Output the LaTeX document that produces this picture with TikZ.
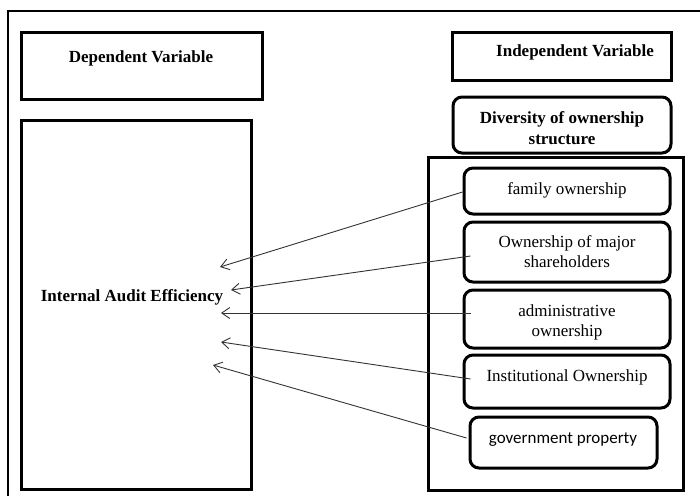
\documentclass[tikz,border=0pt]{standalone}
\usepackage{fontspec}
\setmainfont{Liberation Serif}
\newfontfamily\uisans{Carlito}
\usetikzlibrary{arrows.meta}
\begin{document}
\begin{tikzpicture}[x=1pt,y=-1pt,
  heavybox/.style={draw,line width=3pt,inner sep=0pt},
  roundbox/.style={heavybox,rounded corners=9pt},
  label text/.style={font=\fontsize{17}{20}\selectfont,align=center,inner sep=0pt},
  head text/.style={label text,font=\fontsize{17}{21}\selectfont\bfseries},
  link/.style={draw=black!80,line width=0.9pt,-{Straight Barb[length=8pt,width=11pt,line width=0.9pt]}}]
\useasboundingbox (0,0) rectangle (700,495);
\clip (0,0) rectangle (700,495);

% outer frame
\draw[line width=1.8pt] (8,11) rectangle (720,520);

% dependent side
\node[heavybox,minimum width=241pt,minimum height=66pt] (depbox) at (141.5,66) {};
\node[head text] (deptext) at (141,58) {Dependent Variable};
\node[heavybox,minimum width=230pt,minimum height=369pt] (iae) at (136,304.5) {};
\node[head text] (iaetext) at (132,297) {Internal Audit Efficiency};

% independent side
\node[heavybox,minimum width=219pt,minimum height=47pt] (indbox) at (561.5,56.5) {};
\node[head text] (indtext) at (575,52) {Independent Variable};
\node[roundbox,minimum width=218pt,minimum height=56pt] (divbox) at (562,125) {};
\node[head text] (divtext) at (562,128) {Diversity of ownership\\structure};
\node[heavybox,minimum width=255pt,minimum height=333pt] (group) at (555.5,323.5) {};

\node[roundbox,minimum width=206pt,minimum height=46pt] (fam) at (567,191) {};
\node[label text] (famtext) at (567,190) {family ownership};
\node[roundbox,minimum width=206pt,minimum height=60pt] (maj) at (567,252) {};
\node[label text] (majtext) at (567,252) {Ownership of major\\shareholders};
\node[roundbox,minimum width=206pt,minimum height=58pt] (adm) at (567,319) {};
\node[label text] (admtext) at (567,322) {administrative\\ownership};
\node[roundbox,minimum width=206pt,minimum height=53pt] (inst) at (567,381.5) {};
\node[label text] (insttext) at (567,377) {Institutional Ownership};
\node[roundbox,minimum width=187pt,minimum height=51pt] (gov) at (563.5,442.5) {};
\node[label text,font=\fontsize{17}{20}\selectfont\uisans] (govtext) at (563,440) {government property};

% arrow ends inside the efficiency box
\coordinate (e1) at (220,267);
\coordinate (e2) at (231,290);
\coordinate (e3) at (221,313);
\coordinate (e4) at (221,342);
\coordinate (e5) at (213,365);

\draw[link] ([yshift=-1pt]fam.west) -- (e1);
\draw[link] ([xshift=8pt,yshift=-4pt]maj.west) -- (e2);
\draw[link] ([xshift=8pt,yshift=6pt]adm.west) -- (e3);
\draw[link] ([xshift=8pt,yshift=2.5pt]inst.west) -- (e4);
\draw[link] ([xshift=-2pt,yshift=4.5pt]gov.west) -- (e5);
\end{tikzpicture}
\end{document}
